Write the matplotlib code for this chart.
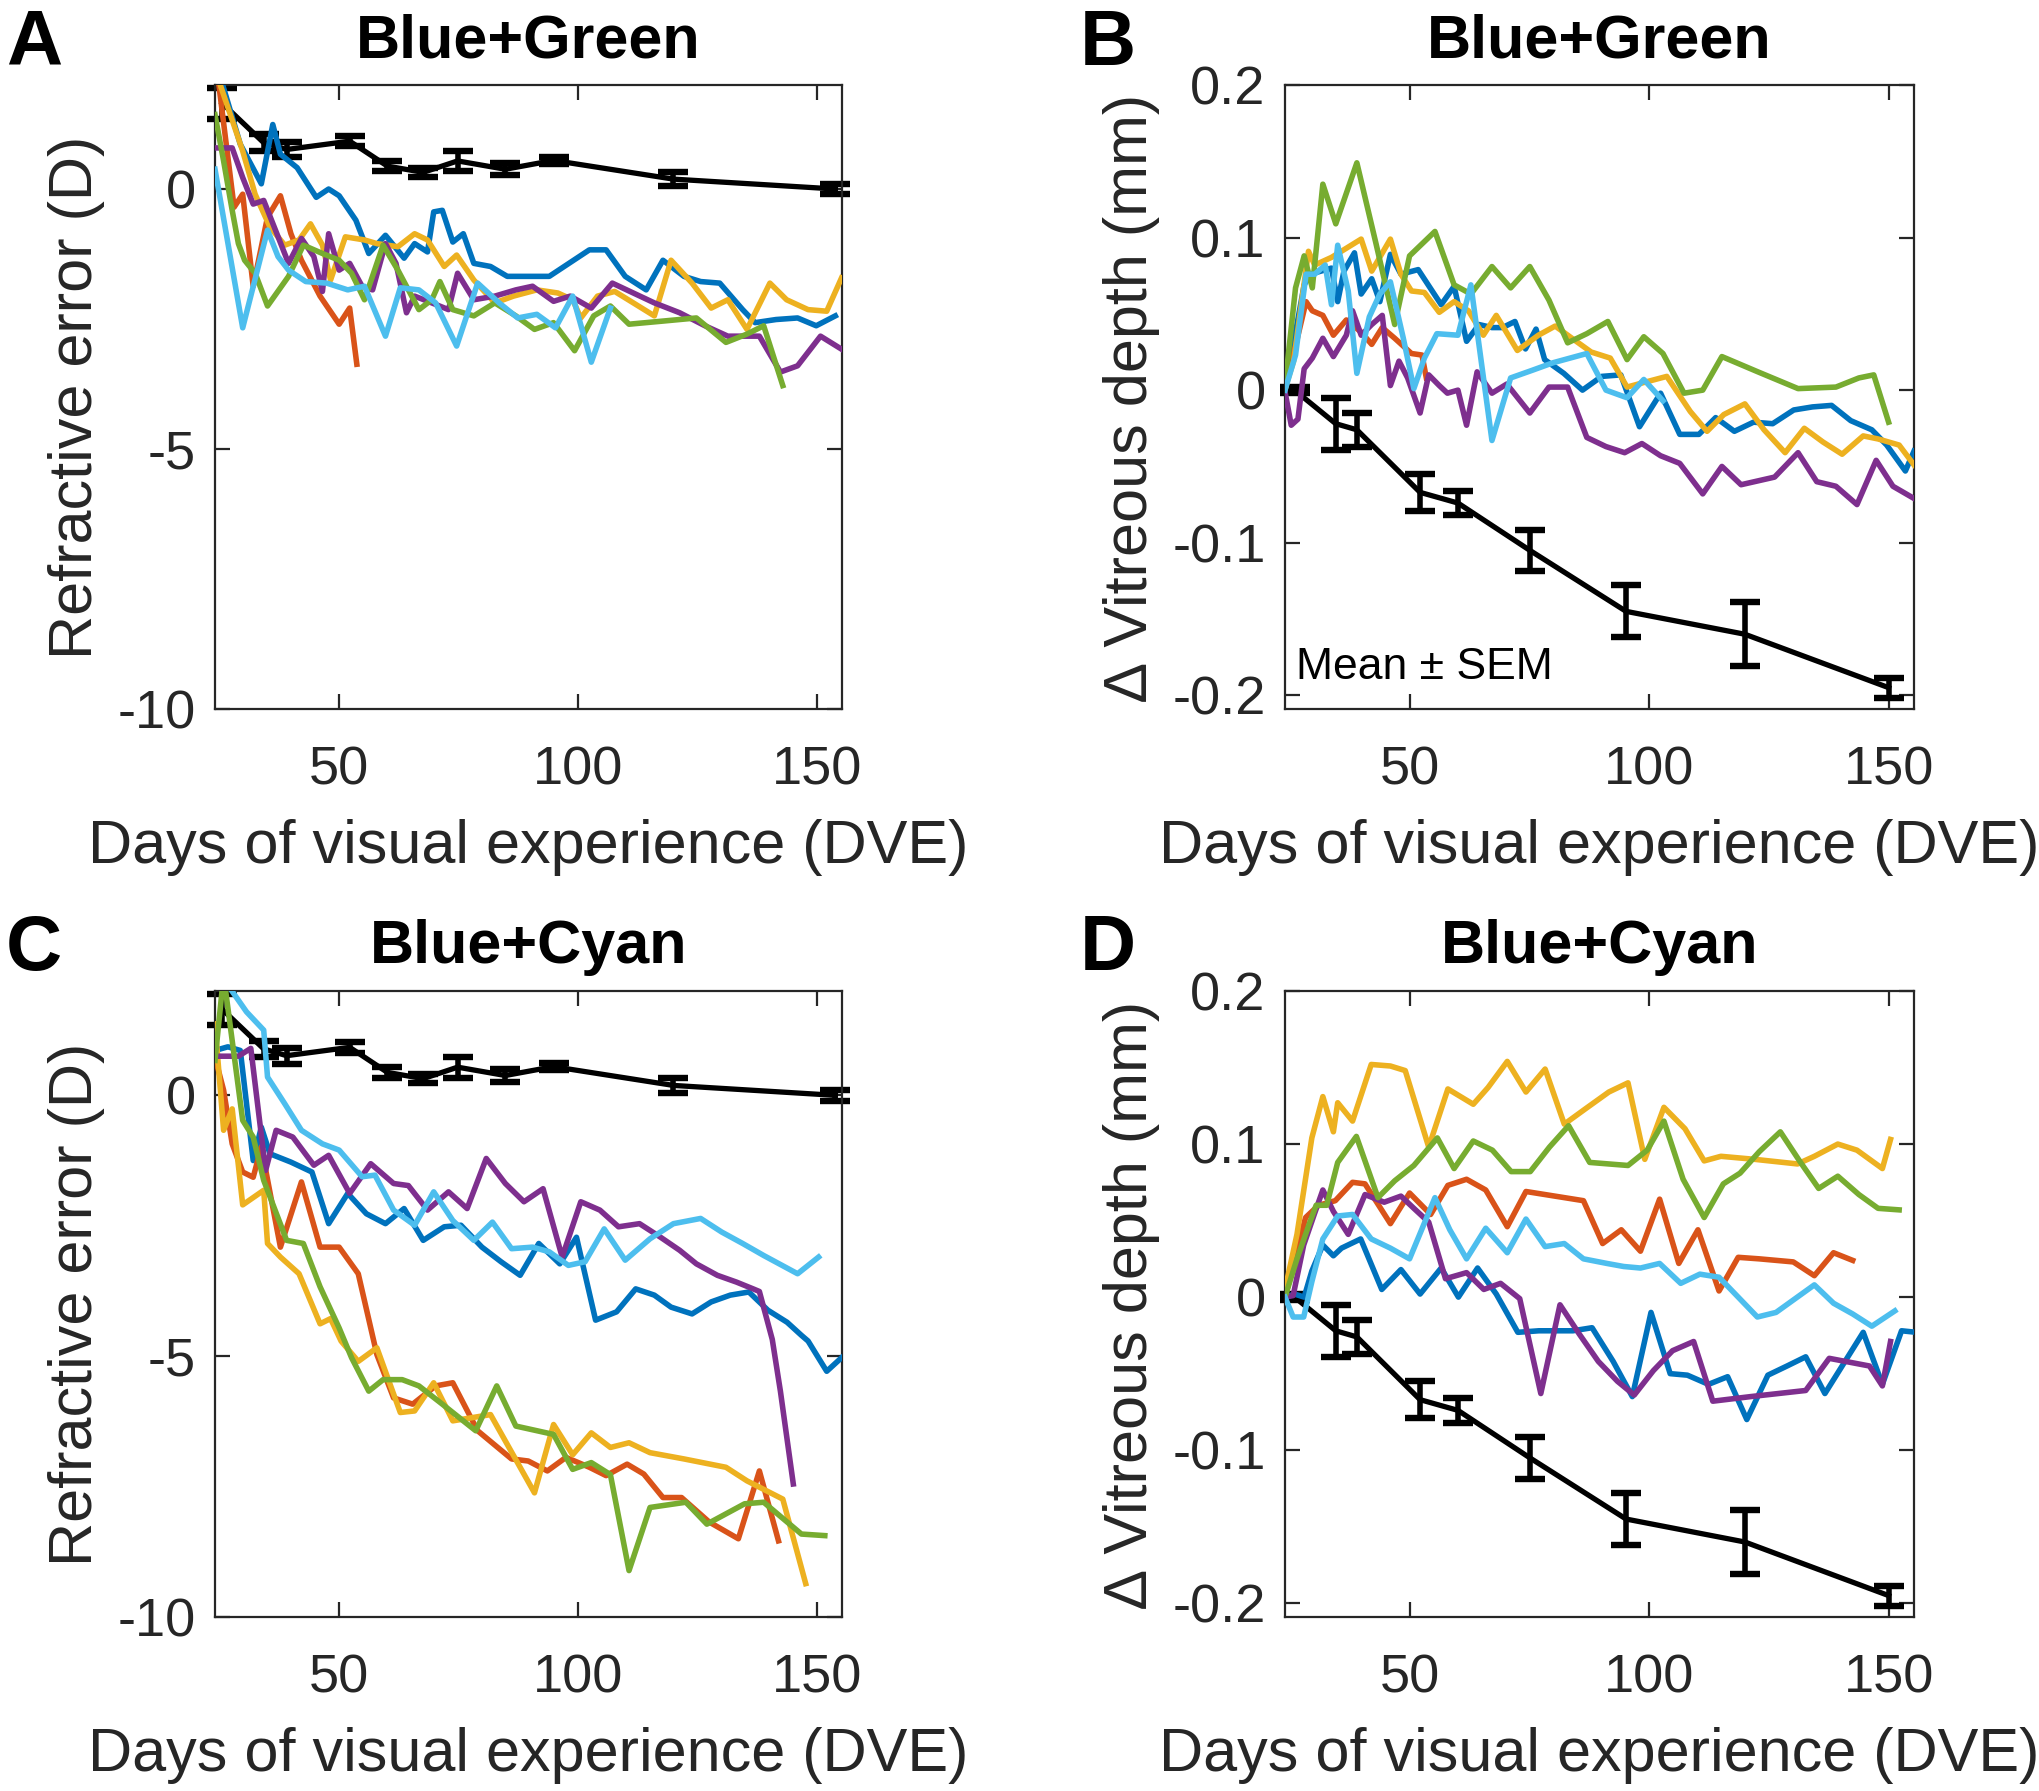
import matplotlib
matplotlib.use("Agg")
import matplotlib.pyplot as plt
from matplotlib import font_manager

# ---------------- data ----------------
# Panel A: refractive error, Blue+Green
A_blue_x = [24.0, 29.3, 33.7, 36.1, 37.7, 41.2, 45.2, 47.8, 50.0, 53.5, 56.2, 59.7, 63.6, 65.8, 68.5, 69.8, 71.6, 73.8, 76.0, 78.2, 81.7, 85.2, 94.0, 102.4, 105.9, 109.9, 114.3, 117.8, 122.2, 125.7, 129.7, 134.5, 137.1, 141.5, 146.0, 149.9, 153.9]
A_blue_y = [2.5, 0.86, 0.10, 1.24, 0.67, 0.41, -0.16, 0.0, -0.13, -0.60, -1.24, -0.89, -1.33, -1.05, -1.21, -0.44, -0.41, -1.02, -0.86, -1.43, -1.49, -1.68, -1.68, -1.17, -1.17, -1.68, -1.94, -1.37, -1.68, -1.78, -1.81, -2.32, -2.57, -2.51, -2.48, -2.63, -2.44]
A_orange_x = [24.0, 28.0, 29.8, 32.0, 35.0, 37.7, 39.9, 42.1, 46.0, 50.0, 52.2, 53.7]
A_orange_y = [2.6, -0.35, -0.10, -1.87, -0.54, -0.13, -0.86, -1.37, -2.06, -2.60, -2.29, -3.37]
A_yellow_x = [24.0, 29.8, 32.4, 35.5, 38.6, 41.6, 44.0, 46.5, 48.2, 51.3, 55.3, 57.9, 62.3, 65.8, 68.5, 72.0, 74.6, 78.2, 82.6, 86.5, 91.4, 95.8, 98.9, 100.6, 104.1, 107.7, 111.6, 116.0, 119.5, 123.9, 127.9, 131.4, 135.4, 140.2, 143.7, 148.2, 152.1, 155.2]
A_yellow_y = [2.3, 0.73, -0.10, -0.73, -1.08, -0.98, -0.67, -1.08, -1.75, -0.92, -0.98, -1.05, -1.11, -0.86, -0.98, -1.49, -1.27, -1.75, -2.19, -2.06, -1.94, -2.0, -2.13, -2.48, -2.06, -1.97, -2.19, -2.44, -1.37, -1.81, -2.29, -2.13, -2.70, -1.81, -2.13, -2.32, -2.35, -1.71]
A_purple_x = [24.0, 27.6, 29.8, 32.0, 34.2, 36.4, 39.4, 42.1, 44.7, 46.5, 47.8, 50.0, 52.2, 54.8, 57.0, 59.7, 61.9, 64.1, 65.8, 69.4, 72.9, 74.8, 78.2, 82.6, 87.0, 90.5, 94.9, 98.4, 102.8, 107.2, 111.6, 116.0, 121.3, 126.6, 131.4, 138.0, 142.4, 146.0, 150.8, 155.2]
A_purple_y = [0.79, 0.79, 0.22, -0.29, -0.22, -0.73, -1.43, -0.95, -1.30, -1.97, -0.86, -1.56, -1.43, -1.87, -1.94, -1.05, -1.43, -2.38, -2.06, -2.19, -2.32, -1.62, -2.13, -2.06, -1.94, -1.87, -2.16, -2.06, -2.29, -1.81, -2.0, -2.19, -2.38, -2.63, -2.83, -2.83, -3.52, -3.40, -2.83, -3.08]
A_green_x = [24.0, 25.8, 27.6, 28.9, 30.2, 32.4, 35.0, 39.4, 42.5, 46.5, 50.0, 52.6, 55.3, 59.2, 62.3, 64.5, 66.7, 69.4, 71.1, 73.8, 78.2, 82.6, 87.0, 90.9, 94.9, 99.3, 103.3, 106.8, 110.7, 117.8, 124.8, 131.0, 135.4, 138.9, 142.9]
A_green_y = [1.43, 0.54, -0.41, -1.05, -1.37, -1.62, -2.25, -1.68, -1.08, -1.24, -1.37, -1.62, -2.13, -1.08, -1.56, -1.94, -2.32, -2.13, -1.78, -2.32, -2.44, -2.19, -2.44, -2.70, -2.57, -3.11, -2.44, -2.25, -2.60, -2.54, -2.48, -2.95, -2.79, -2.63, -3.78]
A_lblue_x = [24.0, 29.8, 35.0, 37.2, 39.4, 43.0, 47.4, 51.8, 55.3, 59.7, 62.8, 66.7, 70.2, 74.6, 79.0, 83.5, 87.4, 91.4, 95.3, 98.9, 102.8, 106.8]
A_lblue_y = [0.38, -2.67, -0.79, -1.30, -1.56, -1.78, -1.81, -1.94, -1.87, -2.83, -1.90, -1.94, -2.19, -3.02, -1.81, -2.19, -2.48, -2.41, -2.67, -2.06, -3.33, -2.29]

# Panel B: vitreous depth change, Blue+Green
B_blue_x = [24.0, 28.0, 29.3, 33.7, 35.0, 36.3, 38.5, 39.9, 42.1, 43.8, 46.0, 48.2, 51.8, 56.6, 59.3, 61.9, 64.5, 67.2, 69.4, 72.0, 74.2, 76.4, 78.2, 82.2, 86.1, 90.1, 94.1, 98.0, 102.4, 106.4, 110.4, 113.9, 117.8, 121.8, 125.8, 130.2, 134.1, 138.1, 142.1, 146.5, 149.6, 153.5, 155.3]
B_blue_y = [0.0, 0.069, 0.076, 0.080, 0.058, 0.078, 0.090, 0.063, 0.073, 0.058, 0.089, 0.076, 0.079, 0.056, 0.068, 0.032, 0.043, 0.041, 0.041, 0.045, 0.027, 0.040, 0.020, 0.011, 0.0, 0.009, 0.010, -0.024, -0.002, -0.029, -0.029, -0.018, -0.027, -0.021, -0.022, -0.013, -0.011, -0.010, -0.020, -0.026, -0.036, -0.053, -0.040]
B_orange_x = [24.0, 28.4, 29.7, 31.9, 34.1, 36.8, 39.9, 42.1, 44.3, 46.9, 50.4, 52.6, 53.5]
B_orange_y = [0.0, 0.058, 0.052, 0.049, 0.036, 0.046, 0.038, 0.030, 0.041, 0.034, 0.024, 0.023, 0.008]
B_yellow_x = [24.0, 25.8, 28.9, 30.2, 33.7, 36.8, 39.9, 42.1, 46.0, 48.2, 50.4, 53.1, 56.2, 59.3, 62.3, 65.4, 68.1, 72.5, 76.9, 80.4, 83.9, 87.9, 91.9, 95.4, 98.9, 103.7, 108.6, 112.1, 115.6, 120.0, 124.0, 128.4, 132.4, 136.3, 140.3, 144.7, 147.8, 152.2, 155.3]
B_yellow_y = [0.001, 0.019, 0.091, 0.082, 0.087, 0.093, 0.099, 0.078, 0.099, 0.076, 0.065, 0.064, 0.051, 0.058, 0.052, 0.036, 0.049, 0.026, 0.036, 0.042, 0.034, 0.025, 0.021, 0.002, 0.005, 0.009, -0.014, -0.027, -0.016, -0.009, -0.026, -0.041, -0.025, -0.034, -0.042, -0.030, -0.032, -0.036, -0.049]
B_purple_x = [24.0, 25.3, 26.7, 28.0, 29.7, 31.9, 34.1, 36.8, 38.1, 39.9, 42.1, 44.3, 46.0, 47.8, 49.6, 52.2, 54.0, 56.2, 57.9, 60.1, 61.9, 64.1, 67.2, 70.3, 75.1, 79.1, 83.0, 87.0, 91.0, 94.9, 98.5, 102.4, 106.4, 111.2, 115.2, 119.2, 126.2, 131.1, 135.0, 139.0, 143.4, 147.4, 150.9, 155.3]
B_purple_y = [-0.001, -0.023, -0.019, 0.014, 0.021, 0.034, 0.022, 0.036, 0.052, 0.036, 0.043, 0.049, 0.003, 0.019, 0.008, -0.015, 0.010, 0.003, -0.002, 0.0, -0.023, 0.012, -0.002, 0.004, -0.015, 0.002, 0.002, -0.031, -0.037, -0.041, -0.035, -0.043, -0.048, -0.068, -0.050, -0.062, -0.057, -0.041, -0.060, -0.063, -0.075, -0.046, -0.063, -0.071]
B_green_x = [24.0, 26.2, 28.0, 29.7, 31.9, 34.6, 39.0, 43.0, 46.9, 50.0, 55.3, 59.3, 62.8, 67.2, 71.1, 75.1, 79.1, 83.0, 87.0, 91.4, 95.4, 98.9, 102.9, 107.3, 111.2, 115.2, 122.7, 131.1, 139.0, 143.8, 146.9, 150.0]
B_green_y = [0.003, 0.067, 0.088, 0.067, 0.135, 0.109, 0.149, 0.096, 0.043, 0.088, 0.104, 0.069, 0.063, 0.081, 0.067, 0.081, 0.059, 0.031, 0.037, 0.045, 0.020, 0.035, 0.024, -0.002, 0.0, 0.022, 0.012, 0.001, 0.002, 0.008, 0.010, -0.021]
B_lblue_x = [24.0, 26.2, 28.4, 30.2, 32.4, 33.7, 35.0, 37.2, 39.0, 41.6, 43.8, 46.0, 48.7, 50.9, 53.1, 55.7, 60.1, 62.8, 67.2, 71.1, 75.6, 80.0, 87.0, 91.0, 95.4, 98.9, 102.9]
B_lblue_y = [0.0, 0.023, 0.076, 0.076, 0.082, 0.056, 0.095, 0.065, 0.011, 0.048, 0.063, 0.071, 0.034, 0.001, 0.021, 0.037, 0.036, 0.069, -0.033, 0.008, 0.013, 0.018, 0.024, 0.0, -0.005, 0.007, -0.007]

# Panel C: refractive error, Blue+Cyan
C_blue_x = [24.0, 26.7, 29.3, 32.0, 33.7, 35.5, 39.9, 44.3, 47.8, 51.8, 55.7, 59.7, 63.6, 67.6, 72.0, 75.5, 79.9, 83.9, 87.9, 91.8, 96.2, 99.7, 103.7, 108.1, 112.1, 116.0, 119.5, 123.9, 127.9, 131.9, 135.8, 139.8, 143.8, 146.8, 148.2, 152.1, 155.2]
C_blue_y = [0.86, 0.93, 0.86, -1.25, -0.61, -1.12, -1.28, -1.47, -2.46, -1.88, -2.27, -2.46, -2.17, -2.78, -2.52, -2.49, -2.91, -3.19, -3.45, -2.84, -3.23, -2.72, -4.31, -4.15, -3.71, -3.83, -4.06, -4.19, -3.96, -3.83, -3.77, -4.12, -4.35, -4.6, -4.71, -5.29, -5.03]
C_orange_x = [24.0, 25.8, 27.6, 29.8, 32.0, 33.7, 37.7, 42.1, 46.0, 50.0, 54.0, 57.9, 61.4, 65.4, 70.2, 73.8, 79.0, 86.1, 89.6, 93.6, 97.5, 102.4, 105.9, 110.3, 113.8, 117.8, 121.7, 127.5, 133.6, 138.0, 142.0]
C_orange_y = [0.73, 0.1, -0.93, -1.47, -1.57, -0.99, -2.91, -1.66, -2.91, -2.91, -3.42, -4.97, -5.80, -5.92, -5.57, -5.51, -6.43, -6.97, -7.01, -7.2, -6.94, -7.13, -7.29, -7.07, -7.26, -7.71, -7.71, -8.18, -8.5, -7.2, -8.54]
C_yellow_x = [24.0, 25.8, 27.6, 29.8, 34.2, 35.0, 37.7, 41.6, 46.0, 48.2, 50.4, 54.0, 57.9, 62.8, 65.8, 69.8, 73.8, 81.7, 90.9, 94.9, 98.9, 102.8, 106.8, 110.7, 115.1, 122.2, 131.0, 135.4, 142.9, 147.7]
C_yellow_y = [1.37, -0.67, -0.26, -2.1, -1.82, -2.84, -3.1, -3.42, -4.38, -4.28, -4.71, -5.10, -4.84, -6.08, -6.05, -5.51, -6.24, -6.12, -7.62, -6.31, -6.89, -6.47, -6.75, -6.66, -6.85, -6.97, -7.13, -7.39, -7.74, -9.36]
C_purple_x = [24.0, 28.9, 31.5, 34.6, 36.8, 40.3, 44.7, 47.8, 52.2, 56.6, 61.4, 64.5, 68.5, 72.9, 76.8, 80.8, 84.8, 88.7, 92.7, 96.7, 100.6, 104.6, 108.5, 112.9, 117.3, 121.3, 124.8, 129.2, 133.2, 136.7, 138.0, 140.7, 142.4, 145.1]
C_purple_y = [0.75, 0.75, 0.9, -1.44, -0.67, -0.80, -1.34, -1.15, -1.88, -1.31, -1.69, -1.73, -2.2, -1.85, -2.17, -1.21, -1.69, -2.04, -1.79, -3.1, -2.04, -2.2, -2.52, -2.46, -2.72, -2.97, -3.23, -3.45, -3.58, -3.71, -3.76, -4.68, -5.67, -7.45]
C_green_x = [24.0, 25.8, 29.8, 32.0, 34.2, 39.0, 42.5, 46.0, 50.0, 52.6, 56.2, 59.2, 63.2, 66.7, 71.6, 78.6, 83.0, 87.0, 94.9, 98.9, 102.8, 106.8, 110.7, 115.1, 122.6, 127.0, 134.9, 138.9, 146.8, 151.7]
C_green_y = [0.67, 2.3, -0.48, -0.80, -1.63, -2.78, -2.84, -3.67, -4.46, -5.03, -5.67, -5.45, -5.45, -5.57, -5.92, -6.43, -5.57, -6.34, -6.5, -7.17, -7.04, -7.27, -9.11, -7.9, -7.8, -8.22, -7.83, -7.8, -8.41, -8.44]
C_lblue_x = [24.5, 30.6, 34.2, 35.0, 38.6, 42.1, 46.5, 50.0, 54.8, 57.5, 61.4, 65.8, 69.8, 73.8, 78.2, 82.1, 86.1, 90.5, 94.0, 98.0, 101.5, 105.5, 109.9, 115.1, 120.0, 125.7, 130.1, 134.5, 138.9, 146.0, 150.4]
C_lblue_y = [2.4, 1.6, 1.25, 0.35, -0.16, -0.67, -0.93, -1.05, -1.56, -1.53, -2.2, -2.49, -1.85, -2.4, -2.78, -2.43, -2.94, -2.91, -3.0, -3.26, -3.19, -2.56, -3.16, -2.75, -2.46, -2.36, -2.62, -2.84, -3.07, -3.42, -3.1]

# Panel D: vitreous depth change, Blue+Cyan
D_blue_x = [24.0, 26.0, 28.0, 29.6, 31.9, 34.1, 35.8, 39.8, 44.2, 48.2, 52.2, 56.6, 60.2, 64.2, 68.1, 72.6, 77.0, 84.1, 88.1, 92.5, 96.5, 100.4, 104.4, 108.0, 112.4, 116.4, 120.4, 124.8, 128.8, 132.7, 136.7, 140.7, 144.7, 148.7, 152.7, 155.8]
D_blue_y = [0.0, 0.002, 0.0, 0.017, 0.034, 0.027, 0.032, 0.038, 0.005, 0.018, 0.002, 0.019, 0.0, 0.019, 0.002, -0.023, -0.022, -0.022, -0.020, -0.042, -0.065, -0.010, -0.050, -0.051, -0.057, -0.052, -0.080, -0.051, -0.045, -0.039, -0.063, -0.043, -0.023, -0.057, -0.022, -0.023]
D_orange_x = [24.0, 28.3, 31.0, 34.5, 38.1, 40.7, 46.0, 50.0, 54.4, 58.0, 61.9, 65.9, 70.4, 74.3, 78.3, 82.3, 86.3, 90.3, 94.2, 98.2, 102.2, 106.2, 110.2, 114.6, 118.6, 123.0, 130.1, 134.5, 138.5, 142.5]
D_orange_y = [0.0, 0.052, 0.060, 0.063, 0.075, 0.074, 0.048, 0.068, 0.054, 0.073, 0.077, 0.070, 0.046, 0.069, 0.067, 0.065, 0.063, 0.035, 0.044, 0.030, 0.064, 0.022, 0.044, 0.004, 0.026, 0.025, 0.023, 0.014, 0.029, 0.024]
D_yellow_x = [24.0, 26.5, 29.6, 31.9, 34.1, 35.0, 38.1, 42.0, 46.0, 49.1, 54.0, 58.0, 63.3, 66.4, 70.4, 74.3, 78.3, 82.3, 86.7, 91.6, 95.6, 99.1, 103.1, 107.5, 111.5, 115.0, 122.1, 131.0, 134.5, 139.4, 143.4, 148.7, 150.4]
D_yellow_y = [0.005, 0.041, 0.104, 0.131, 0.108, 0.127, 0.115, 0.152, 0.151, 0.148, 0.098, 0.136, 0.126, 0.137, 0.154, 0.134, 0.149, 0.113, 0.123, 0.134, 0.140, 0.090, 0.124, 0.110, 0.089, 0.092, 0.090, 0.087, 0.092, 0.100, 0.096, 0.084, 0.103]
D_purple_x = [24.0, 25.7, 27.9, 30.1, 31.9, 34.1, 37.2, 40.7, 44.7, 48.2, 50.9, 54.0, 57.5, 61.9, 65.5, 69.0, 73.0, 77.4, 81.4, 85.4, 89.4, 93.4, 96.9, 100.9, 104.9, 109.3, 113.3, 121.2, 132.7, 137.6, 146.0, 148.7, 150.4]
D_purple_y = [0.0, 0.001, 0.034, 0.054, 0.070, 0.056, 0.041, 0.067, 0.062, 0.066, 0.058, 0.049, 0.012, 0.016, 0.005, 0.009, -0.001, -0.063, -0.005, -0.024, -0.042, -0.055, -0.064, -0.048, -0.035, -0.029, -0.068, -0.065, -0.061, -0.040, -0.045, -0.058, -0.029]
D_green_x = [24.0, 26.5, 29.2, 30.5, 32.7, 35.0, 38.9, 43.4, 46.9, 50.9, 55.8, 59.3, 63.3, 67.3, 71.2, 75.2, 79.2, 83.2, 87.6, 91.6, 95.6, 99.6, 103.1, 107.1, 111.5, 115.5, 119.0, 123.0, 127.4, 131.4, 135.4, 139.4, 143.8, 147.8, 152.2]
D_green_y = [0.0, 0.025, 0.049, 0.060, 0.060, 0.088, 0.105, 0.065, 0.076, 0.086, 0.104, 0.084, 0.102, 0.096, 0.082, 0.082, 0.098, 0.112, 0.088, 0.087, 0.086, 0.096, 0.115, 0.077, 0.052, 0.074, 0.081, 0.095, 0.108, 0.089, 0.071, 0.079, 0.067, 0.058, 0.057]
D_lblue_x = [24.0, 25.7, 27.9, 29.6, 31.9, 35.0, 38.1, 42.0, 46.0, 50.0, 55.3, 58.4, 61.9, 65.9, 70.4, 74.3, 78.3, 82.3, 86.3, 91.2, 94.7, 98.2, 102.2, 106.6, 110.6, 114.6, 118.6, 122.6, 126.5, 130.5, 134.5, 138.5, 142.5, 146.5, 151.3]
D_lblue_y = [0.0, -0.013, -0.013, 0.010, 0.038, 0.053, 0.054, 0.038, 0.032, 0.025, 0.065, 0.044, 0.025, 0.045, 0.029, 0.051, 0.033, 0.035, 0.025, 0.022, 0.020, 0.019, 0.022, 0.009, 0.015, 0.013, 0.0, -0.013, -0.010, -0.001, 0.008, -0.004, -0.011, -0.019, -0.009]

# Normal-group means (mean +/- SEM)
REF_x = [25.5, 34.2, 39.0, 52.2, 60.1, 67.6, 74.8, 84.8, 94.9, 120.0, 153.9]
REF_y = [1.65, 0.89, 0.76, 0.92, 0.44, 0.32, 0.54, 0.38, 0.55, 0.19, 0.0]
REF_err = [0.30, 0.16, 0.15, 0.10, 0.10, 0.08, 0.20, 0.12, 0.07, 0.14, 0.10]
VIT_x = [26.0, 34.6, 39.0, 52.2, 60.1, 75.1, 95.2, 120.0, 150.0]
VIT_y = [0.0, -0.022, -0.026, -0.067, -0.074, -0.105, -0.145, -0.160, -0.195]
VIT_err = [0.002, 0.017, 0.011, 0.012, 0.008, 0.0136, 0.017, 0.021, 0.0065]

panel_letters = ["A", "B", "C", "D"]
panel_titles = ["Blue+Green", "Blue+Green", "Blue+Cyan", "Blue+Cyan"]
xlabel_text = "Days of visual experience (DVE)"
ylabel_ref = "Refractive error (D)"
ylabel_vit = "\u2206 Vitreous depth (mm)"
xticks = [50, 100, 150]
yticks_ref = [-10, -5, 0]
yticks_vit = [-0.2, -0.1, 0, 0.1, 0.2]
ytick_labels_vit = ["-0.2", "-0.1", "0", "0.1", "0.2"]
ytick_labels_ref = ["-10", "-5", "0"]

COLORS = {"blue": "#0072BD", "orange": "#D95319", "yellow": "#EDB120",
          "purple": "#7E2F8E", "green": "#77AC30", "lblue": "#4DBEEE"}
ORDER = ["blue", "orange", "yellow", "purple", "green", "lblue"]

# ---------------- fonts ----------------
def has_font(name):
    try:
        font_manager.findfont(font_manager.FontProperties(family=name), fallback_to_default=False)
        return True
    except Exception:
        return False

MAIN = "Liberation Sans" if has_font("Liberation Sans") else "DejaVu Sans"
NARROW = "Liberation Sans Narrow" if has_font("Liberation Sans Narrow") else None
plt.rcParams["font.family"] = [MAIN, "DejaVu Sans"]
plt.rcParams["axes.unicode_minus"] = False
if NARROW:
    tick_font = dict(family=[NARROW, MAIN], size=42)
else:
    tick_font = dict(family=[MAIN], size=39)

W, H = 2040, 1791
fig = plt.figure(figsize=(W / 100, H / 100), dpi=100)

def ax_rect(l, r, t, b):
    return [l / W, 1 - b / H, (r - l) / W, (b - t) / H]

rects = [ax_rect(215, 842, 85, 709), ax_rect(1285, 1914, 85, 709),
         ax_rect(215, 842, 991, 1617), ax_rect(1285, 1914, 991, 1617)]

series = {
    0: {c: (globals()[f"A_{c}_x"], globals()[f"A_{c}_y"]) for c in ORDER},
    1: {c: (globals()[f"B_{c}_x"], globals()[f"B_{c}_y"]) for c in ORDER},
    2: {c: (globals()[f"C_{c}_x"], globals()[f"C_{c}_y"]) for c in ORDER},
    3: {c: (globals()[f"D_{c}_x"], globals()[f"D_{c}_y"]) for c in ORDER},
}

FRAME = "#262626"
LABEL_SIZE = 44
for i, rect in enumerate(rects):
    ax = fig.add_axes(rect)
    vit = i in (1, 3)
    if vit:
        mx, my, me = VIT_x, VIT_y, VIT_err
    else:
        mx, my, me = REF_x, REF_y, REF_err
    eb = ax.errorbar(mx, my, yerr=me, color="black", lw=3.8, elinewidth=4.0,
                     capsize=11, capthick=4.6, zorder=2)
    for cl in eb[1]:
        cl.set_clip_on(False)
    for c in ORDER:
        x, y = series[i][c]
        ax.plot(x, y, color=COLORS[c], lw=4.0, zorder=3)

    ax.set_xlim(24, 155.3)
    ax.set_xticks(xticks)
    if vit:
        ax.set_ylim(-0.209, 0.2)
        ax.set_yticks(yticks_vit)
        ax.set_yticklabels(ytick_labels_vit)
        ax.set_ylabel(ylabel_vit, fontsize=LABEL_SIZE, labelpad=9, color=FRAME)
    else:
        ax.set_ylim(-10, 2)
        ax.set_yticks(yticks_ref)
        ax.set_yticklabels(ytick_labels_ref)
        ax.set_ylabel(ylabel_ref, fontsize=LABEL_SIZE, labelpad=9, color=FRAME)
    ax.set_xlabel(xlabel_text, fontsize=LABEL_SIZE, labelpad=17, color=FRAME)
    ax.tick_params(direction="in", length=11, width=1.6, top=True, right=True,
                   colors=FRAME)
    ax.tick_params(axis="x", pad=26)
    ax.tick_params(axis="y", pad=14)
    for lab in ax.get_xticklabels() + ax.get_yticklabels():
        lab.set_fontfamily(tick_font["family"])
        lab.set_fontsize(tick_font["size"])
    for s in ax.spines.values():
        s.set_color(FRAME)
        s.set_linewidth(1.6)
    ax.set_title(panel_titles[i], fontsize=44, fontweight="bold", pad=20)
    if i == 1:
        ax.text(0.018, 0.066, "Mean \u00b1 SEM", transform=ax.transAxes,
                fontsize=32, va="center", ha="left", color="black")

letter_pos = [(6, 8), (1080, 8), (6, 913), (1080, 913)]
for letter, (px, py) in zip(panel_letters, letter_pos):
    fig.text(px / W, 1 - py / H, letter, fontsize=56, fontweight="bold",
             va="top", ha="left")

fig.savefig("out.png", dpi=100)
